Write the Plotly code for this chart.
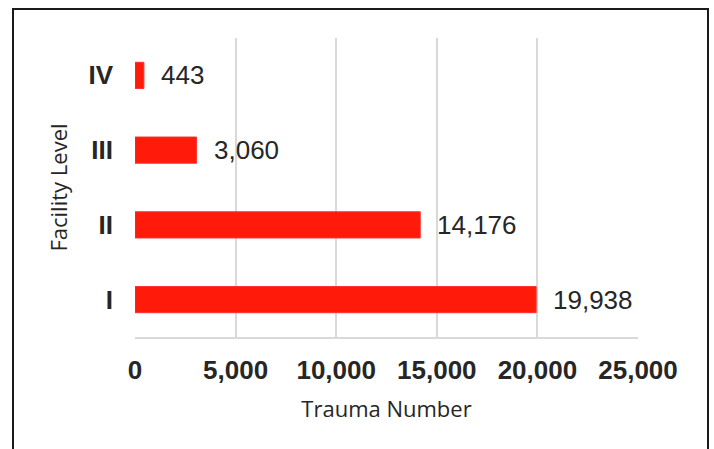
import plotly.graph_objects as go

categories = ["I", "II", "III", "IV"]
values = [19938, 14176, 3060, 443]
x_tick_values = [0, 5000, 10000, 15000, 20000, 25000]
x_tick_labels = ["0", "5,000", "10,000", "15,000", "20,000", "25,000"]
x_title = "Trauma Number"
y_title = "Facility Level"

W, H = 714, 449
ML, MR, MT, MB = 135, 76, 38, 112
PW, PH = W - ML - MR, H - MT - MB

fig = go.Figure()
fig.add_trace(go.Bar(
    x=values, y=categories, orientation="h", width=0.35,
    marker=dict(color="#ff1a0a", line=dict(color="#ff3030", width=1)),
    hoverinfo="x+y",
))

for v, c in zip(values, categories):
    fig.add_annotation(
        x=v, y=c, text=f"{v:,}", showarrow=False, xanchor="left", yanchor="middle",
        xshift=15, font=dict(family="Liberation Sans, Arial", size=26, color="#262626"),
    )

# outer frame
fig.add_shape(
    type="rect", xref="paper", yref="paper",
    x0=(13 - ML) / PW, x1=(708 - ML) / PW,
    y0=(MT + PH - 470) / PH, y1=(MT + PH - 9) / PH,
    line=dict(color="#1a1a1a", width=2), fillcolor="rgba(0,0,0,0)", layer="above",
)

fig.update_layout(
    width=W, height=H,
    margin=dict(l=ML, r=MR, t=MT, b=MB, autoexpand=False),
    paper_bgcolor="white", plot_bgcolor="white",
    showlegend=False,
    xaxis=dict(
        range=[0, 25000], tickvals=x_tick_values, ticktext=x_tick_labels,
        showgrid=True, gridcolor="#d9d9d9", gridwidth=1.5,
        zeroline=False, showline=True, linecolor="#d9d9d9", linewidth=1.5,
        ticks="", ticklabelstandoff=9,
        tickfont=dict(family="Liberation Sans, Arial", size=26, color="#262626", weight="bold"),
        title=dict(text=x_title, standoff=18,
                   font=dict(family="Open Sans", size=22, color="#262626")),
        fixedrange=True,
    ),
    yaxis=dict(
        type="category", range=[-0.5, 3.5],
        showgrid=False, zeroline=False, showline=False,
        ticks="", ticklabelstandoff=21,
        tickfont=dict(family="Liberation Sans, Arial", size=26, color="#262626", weight="bold"),
        title=dict(text=y_title, standoff=14,
                   font=dict(family="Open Sans", size=22, color="#262626")),
        fixedrange=True,
    ),
)

fig.write_html(
    "out.html",
    config={"displayModeBar": False},
    post_script="document.body.style.margin='0';document.body.style.overflow='hidden';",
)
